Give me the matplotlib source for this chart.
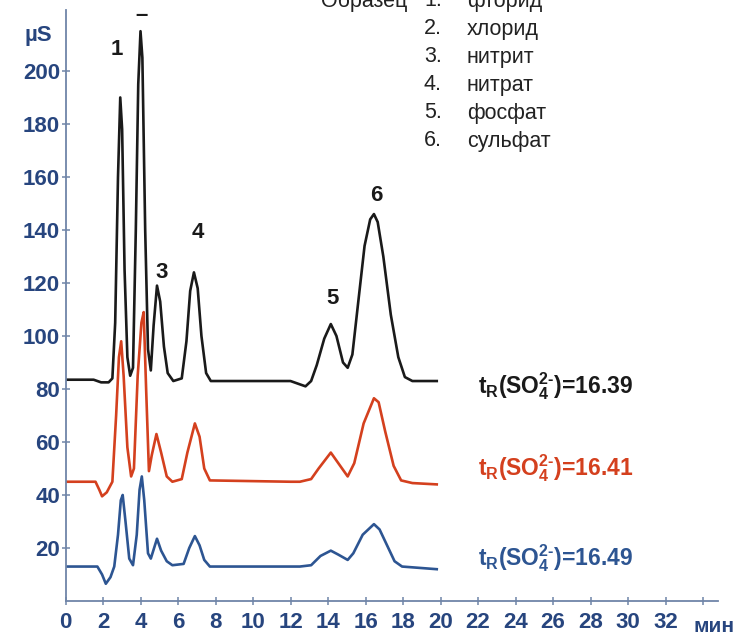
import matplotlib
matplotlib.use("Agg")
import matplotlib.pyplot as plt

plt.rcParams['font.family'] = ['Liberation Sans', 'DejaVu Sans']
plt.rcParams['mathtext.fontset'] = 'custom'
plt.rcParams['mathtext.rm'] = 'Liberation Sans:bold'
plt.rcParams['mathtext.bf'] = 'Liberation Sans:bold'
plt.rcParams['mathtext.default'] = 'bf'

# chromatograms: time (min) and signal (uS)
black_t = [0, 1.5, 1.9, 2.3, 2.5, 2.65, 2.8, 2.92, 3.02, 3.15, 3.3, 3.45, 3.6, 3.75,
           3.88, 4.0, 4.1, 4.25, 4.4, 4.55, 4.7, 4.88, 5.05, 5.25, 5.45, 5.75, 6.2,
           6.45, 6.65, 6.85, 7.05, 7.25, 7.5, 7.75, 10, 12, 12.4, 12.8, 13.1, 13.4,
           13.8, 14.15, 14.45, 14.8, 15.05, 15.3, 15.6, 15.95, 16.25, 16.45, 16.65,
           16.95, 17.35, 17.75, 18.1, 18.5, 19.8]
black_v = [83.5, 83.5, 82.5, 82.5, 84, 105, 160, 190, 178, 125, 92, 85, 88, 140,
           195, 215, 205, 140, 95, 87, 104, 119, 113, 96, 86, 83, 84,
           98, 117, 124, 118, 100, 86, 83, 83, 83, 82, 81, 83, 89,
           99, 104.5, 100, 90, 88, 93, 112, 134, 144, 146, 143,
           130, 108, 92, 84.5, 83, 83]

red_t = [0, 1.6, 1.8, 1.95, 2.2, 2.5, 2.7, 2.85, 2.97, 3.1, 3.3, 3.5, 3.65, 3.85,
         4.05, 4.17, 4.3, 4.45, 4.6, 4.85, 5.1, 5.4, 5.7, 6.2, 6.5, 6.9, 7.15,
         7.4, 7.7, 12, 12.5, 13.1, 13.5, 14.15, 14.55, 15.05, 15.4, 15.9, 16.45,
         16.7, 17.05, 17.5, 17.9, 18.5, 19.8]
red_v = [45, 45, 42, 39.5, 41, 45, 70, 92, 98, 85, 58, 47, 50, 85,
         105, 109, 80, 49, 55, 63, 56, 47, 45, 46, 56, 67, 62,
         50, 45.5, 45, 45, 46, 50, 56, 52, 47, 52, 67, 76.5,
         75, 64, 51, 45.5, 44.5, 44]

blue_t = [0, 1.7, 1.95, 2.15, 2.4, 2.6, 2.8, 2.95, 3.05, 3.2, 3.4, 3.6, 3.8, 3.95,
          4.07, 4.2, 4.4, 4.55, 4.88, 5.1, 5.4, 5.7, 6.3, 6.6, 6.9, 7.15, 7.4, 7.7,
          12.5, 13.1, 13.6, 14.15, 14.55, 15.05, 15.35, 15.85, 16.45, 16.75, 17.15,
          17.55, 17.95, 19.8]
blue_v = [13, 13, 10, 6.5, 9, 13, 25, 38, 40, 30, 16, 13.5, 25, 42,
          47, 38, 18, 16, 23.5, 19, 15, 13.5, 14, 20, 24.5, 21, 15.5, 13,
          13, 13.5, 17, 19, 17.5, 15.5, 18, 25, 29,
          27, 21, 15, 13, 12]

# peak numbers: label, time, height
peak_labels = ["1", "–", "3", "4", "5", "6"]
peak_x = [2.75, 4.05, 5.1, 7.05, 14.25, 16.55]
peak_y = [208, 221, 124, 139, 114, 153]

# retention time notes
rt_labels = ["16.39", "16.41", "16.49"]
rt_y = [81, 50, 16]
colors = ["#1a1a1a", "#d4401e", "#2d5592"]

legend_nums = ["1.", "2.", "3.", "4.", "5.", "6."]
legend_names = ["фторид", "хлорид", "нитрит", "нитрат", "фосфат", "сульфат"]

axis_blue = "#27457e"

fig = plt.figure(figsize=(7.4, 6.42), dpi=100)
ax = fig.add_axes([65.5 / 740, 41 / 642, (718 - 65.5) / 740, 591 / 642])

ax.plot(black_t, black_v, color=colors[0], lw=1.9)
ax.plot(red_t, red_v, color=colors[1], lw=1.9)
ax.plot(blue_t, blue_v, color=colors[2], lw=1.9)

ax.set_xlim(0, 34.8)
ax.set_ylim(0, 223)
ax.spines['top'].set_visible(False)
ax.spines['right'].set_visible(False)
for s in ['left', 'bottom']:
    ax.spines[s].set_color("#6f85a8")
    ax.spines[s].set_linewidth(1.3)

ax.set_xticks(range(0, 35, 2))
ax.set_xticklabels([str(v) if v <= 32 else "" for v in range(0, 35, 2)])
ax.set_yticks(range(20, 201, 20))
ax.tick_params(axis='both', colors="#6f85a8", direction='inout', length=6, width=1.1,
               labelcolor=axis_blue, labelsize=16)
ax.tick_params(axis='x', pad=5)
ax.tick_params(axis='y', pad=1)
for lab in ax.get_xticklabels() + ax.get_yticklabels():
    lab.set_fontweight('bold')

ax.text(34.6, -25 / 591, "мин", transform=ax.get_xaxis_transform(), ha='center',
        va='center', fontsize=15, fontweight='bold', color=axis_blue)
fig.text(38 / 740, 1 - 36 / 642, "µS", ha='center', va='center', fontsize=16,
         fontweight='bold', color=axis_blue)

for lab, x, y in zip(peak_labels, peak_x, peak_y):
    ax.text(x, y, lab, ha='center', va='center', fontsize=16, fontweight='bold',
            color="#1a1a1a")

for val, y, c in zip(rt_labels, rt_y, colors):
    ax.text(22.0, y, r"t$_R$(SO$_4^{2\text{-}}$)=" + val, ha='left', va='center',
            fontsize=16.5, fontweight='bold', color=c)

# sample list in the top right (first line is cut by the top edge, as in the scan)
fig.text(407 / 740, 1 - 1 / 642, "Образец", ha='right', va='center', fontsize=15.5,
         color="#222222")
for i, (n, name) in enumerate(zip(legend_nums, legend_names)):
    yy = 1 - (1 + 28 * i) / 642
    fig.text(433 / 740, yy, n, ha='center', va='center', fontsize=15.5, color="#222222")
    fig.text(467 / 740, yy, name, ha='left', va='center', fontsize=15.5, color="#222222")

fig.savefig("out.png", dpi=100)
